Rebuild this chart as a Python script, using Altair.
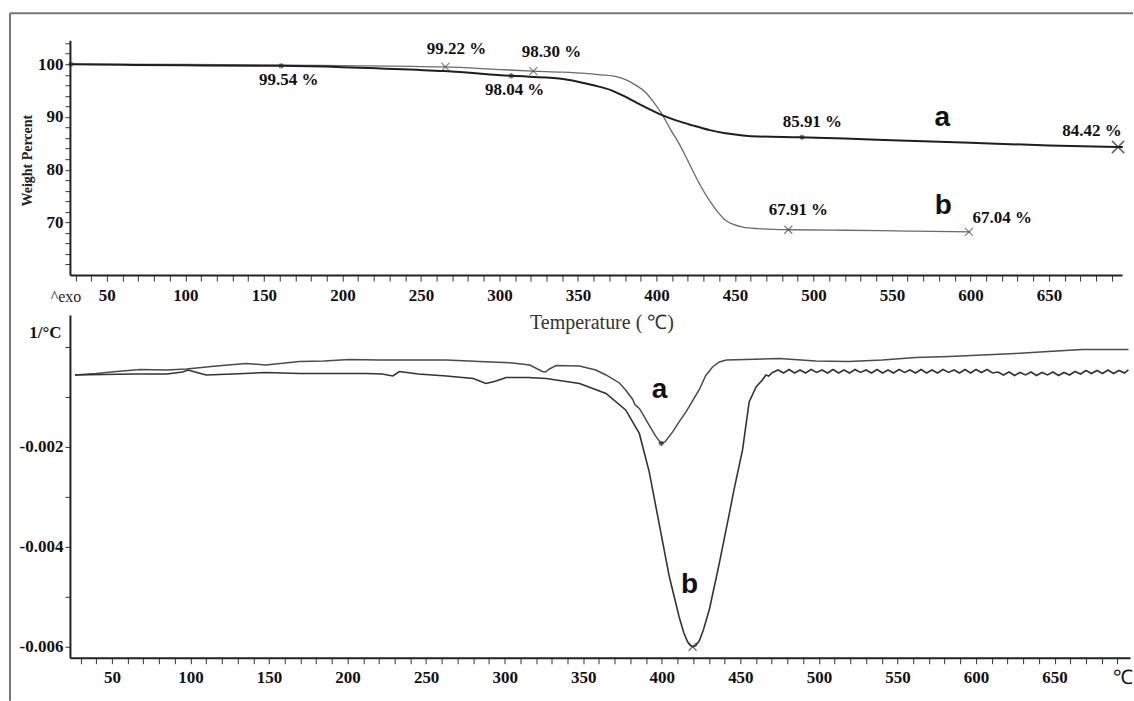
import altair as alt
import pandas as pd

# ---------------- TGA (top panel) ----------------
tga_a_temp = [27, 60, 100, 161, 200, 224, 265, 308, 338, 350, 360, 371, 381, 392, 404, 413, 423, 434, 444, 455, 465, 491, 520, 550, 600, 650, 694, 697]
tga_a_wt = [100.0, 99.9, 99.8, 99.7, 99.45, 99.2, 98.7, 97.8, 97.3, 96.7, 96.0, 95.1, 93.7, 92.0, 90.3, 89.3, 88.4, 87.5, 86.9, 86.5, 86.3, 86.15, 85.9, 85.6, 85.1, 84.6, 84.3, 84.28]

tga_b_temp = [27, 100, 160, 200, 265, 300, 321, 340, 355, 365, 375, 381, 387, 393, 398, 404, 409, 414.5, 419, 423, 428, 433.6, 439, 444, 449, 455, 465, 484, 520, 560, 600]
tga_b_wt = [100.0, 99.95, 99.85, 99.75, 99.5, 99.0, 98.7, 98.5, 98.25, 98.0, 97.6, 97.0, 96.0, 94.7, 92.9, 90.3, 87.6, 84.9, 82.3, 79.9, 77.0, 74.2, 72.0, 70.4, 69.6, 69.1, 68.8, 68.6, 68.5, 68.35, 68.2]

tga_cross_temp = [265.6, 321.6, 484, 599]
tga_cross_wt = [99.5, 98.7, 68.6, 68.2]
tga_big_cross_temp = [694]
tga_big_cross_wt = [84.3]
tga_star_temp = [27, 161, 307.6, 492.7]
tga_star_wt = [100.0, 99.7, 97.8, 86.15]

tga_labels = ["99.54 %", "99.22 %", "98.30 %", "98.04 %", "85.91 %", "84.42 %", "67.91 %", "67.04 %"]
tga_label_temp = [165.8, 272.7, 333.2, 309.7, 499.3, 677.4, 490.4, 620.2]
tga_label_wt = [96.96, 102.85, 102.28, 95.07, 89.0, 87.29, 72.3, 70.78]

tga_letters = ["a", "b"]
tga_letter_temp = [582.0, 582.7]
tga_letter_wt = [89.75, 73.05]

# ---------------- DTG (bottom panel) ----------------
dtg_a_temp = [26.5, 40, 53, 68, 85, 97.5, 116.5, 135.6, 148, 169.5, 185, 201, 220, 240, 263, 284, 305, 316, 324, 326, 328.5, 332.7, 347.6, 358, 364.5, 373, 377, 381.5, 383, 385.7, 388, 392, 396, 399.5, 402, 406.9, 411, 415.4, 419, 423.9, 428, 432.3, 436.6, 441, 453.5, 474.7, 498, 519, 540.4, 561.6, 583, 604, 625, 646, 667.6, 697]
dtg_a_val = [-0.00056, -0.00053, -0.00049, -0.00045, -0.00046, -0.00044, -0.00038, -0.00033, -0.00036, -0.00029, -0.00028, -0.00025, -0.00026, -0.00026, -0.00026, -0.00029, -0.00032, -0.00036, -0.00049, -0.00050, -0.00044, -0.00037, -0.00038, -0.00046, -0.00056, -0.00072, -0.00086, -0.00105, -0.00116, -0.00123, -0.00135, -0.00157, -0.00178, -0.00193, -0.00190, -0.00170, -0.00150, -0.00130, -0.00111, -0.00085, -0.00057, -0.00040, -0.00030, -0.00026, -0.00025, -0.00023, -0.00028, -0.00029, -0.00026, -0.00021, -0.00019, -0.00016, -0.00013, -0.00009, -0.00005, -0.00005]

dtg_b_temp = [26.5, 45, 63.5, 85, 95, 98.5, 103, 110, 127, 148, 169.5, 191, 212, 222, 228.8, 233, 245, 263, 280, 288, 293.5, 301, 315, 326.4, 347.6, 364.5, 377, 385.7, 392, 398.4, 404.8, 411, 414, 416.4, 418, 419.6, 421.5, 423.9, 426.5, 430.3, 436.6, 443, 446, 451.4, 455.6, 460, 464, 466.3, 468, 470.5,
              474, 477.5, 481, 484.5, 488, 491.5, 495, 498.5, 502, 505.5, 509, 512.5, 516, 519.5, 523, 526.5, 530, 533.5, 537, 540.5, 544, 547.5, 551, 554.5, 558, 561.5, 565, 568.5, 572, 575.5, 579, 582.5, 586, 589.5, 593, 596.5, 600, 603.5, 607, 610.5, 614, 617.5, 621, 624.5, 628, 631.5, 635, 638.5, 642, 645.5, 649, 652.5, 656, 659.5, 663, 666.5, 670, 673.5, 677, 680.5, 684, 687.5, 691, 694.5, 697]
dtg_b_val = [-0.00056, -0.00055, -0.00054, -0.00054, -0.00050, -0.00046, -0.00050, -0.00056, -0.00054, -0.00051, -0.00053, -0.00053, -0.00053, -0.00054, -0.00058, -0.00049, -0.00054, -0.00058, -0.00063, -0.00073, -0.00069, -0.00061, -0.00061, -0.00063, -0.00073, -0.00093, -0.00126, -0.00173, -0.00250, -0.00355, -0.00460, -0.00540, -0.00572, -0.00590, -0.00597, -0.00600, -0.00598, -0.00588, -0.00566, -0.00525, -0.00433, -0.00333, -0.00285, -0.00206, -0.00110, -0.00080, -0.00066, -0.00056, -0.00058, -0.00051,
             -0.00046, -0.00052, -0.00045, -0.00052, -0.00046, -0.00052, -0.00045, -0.00051, -0.00046, -0.00052, -0.00045, -0.00052, -0.00046, -0.00052, -0.00045, -0.00051, -0.00046, -0.00052, -0.00045, -0.00052, -0.00046, -0.00052, -0.00045, -0.00051, -0.00046, -0.00052, -0.00045, -0.00052, -0.00046, -0.00052, -0.00045, -0.00051, -0.00046, -0.00052, -0.00045, -0.00052, -0.00045, -0.00051, -0.00045, -0.00052, -0.00050, -0.00056, -0.00050, -0.00057, -0.00051, -0.00056, -0.00050, -0.00057, -0.00051, -0.00056, -0.00050, -0.00057, -0.00051, -0.00056, -0.00049, -0.00054, -0.00047, -0.00053, -0.00047, -0.00053, -0.00046, -0.00053, -0.00047, -0.00052, -0.00046]

dtg_cross_temp = [419.6]
dtg_cross_val = [-0.00600]
dtg_star_temp = [399.7]
dtg_star_val = [-0.00193]

dtg_letters = ["a", "b"]
dtg_letter_temp = [398.5, 417.6]
dtg_letter_val = [-0.00086, -0.00476]

# ---------------- helpers ----------------
SERIF = "Liberation Serif"
SANS = "Liberation Sans"
XPATH = "M-1,-1L1,1M-1,1L1,-1"
STAR = "M-1,0L1,0M0,-1L0,1M-0.7,-0.7L0.7,0.7M-0.7,0.7L0.7,-0.7"

X_top = alt.X("T:Q", scale=alt.Scale(domain=[26.5, 696.5], nice=False, zero=False),
              axis=alt.Axis(values=list(range(30, 700, 10)),
                            labelExpr="datum.value % 50 === 0 ? datum.label : ''",
                            title="Temperature ( \u2103)", titleX=532, titleY=47,
                            titleFont=SERIF, titleFontSize=20, titleFontWeight="normal",
                            titleColor="#333", titleBaseline="middle", titleAlign="center",
                            labelFont=SERIF, labelFontWeight="bold", labelFontSize=17,
                            labelColor="#111", labelPadding=6, tickSize=6, tickColor="#333",
                            tickWidth=1, domainColor="#222", domainWidth=2, grid=False,
                            labelFlush=False, labelOverlap=False))
Y_top = alt.Y("W:Q", scale=alt.Scale(domain=[60, 104.55], nice=False, zero=False),
              axis=alt.Axis(values=list(range(62, 105, 2)),
                            labelExpr="(datum.value % 10 === 0 && datum.value >= 70) ? datum.label : ''",
                            title="Weight Percent", titleX=-42, titleY=120, titleAngle=-90,
                            titleFont=SERIF, titleFontSize=14, titleFontWeight="bold",
                            titleColor="#222", titleBaseline="middle", titleAlign="center",
                            labelFont=SERIF, labelFontWeight="bold", labelFontSize=17,
                            labelColor="#111", labelPadding=2, tickSize=5, tickColor="#333",
                            tickWidth=1, domainColor="#222", domainWidth=2, grid=False,
                            labelOverlap=False))

X_bot = alt.X("T:Q", scale=alt.Scale(domain=[23.3, 698], nice=False, zero=False),
              axis=alt.Axis(values=list(range(30, 700, 10)),
                            labelExpr="datum.value % 50 === 0 ? datum.label : ''",
                            title="\u2103", titleX=1053, titleY=20,
                            titleFont=SERIF, titleFontSize=20, titleFontWeight="normal",
                            titleColor="#111", titleBaseline="middle", titleAlign="center",
                            labelFont=SERIF, labelFontWeight="bold", labelFontSize=17,
                            labelColor="#111", labelPadding=6, tickSize=6, tickColor="#333",
                            tickWidth=1, domainColor="#222", domainWidth=2, grid=False,
                            labelFlush=False, labelOverlap=False))
Y_bot = alt.Y("D:Q", scale=alt.Scale(domain=[-0.00622, 0.00064], nice=False, zero=False),
              axis=alt.Axis(values=[0, -0.001, -0.002, -0.003, -0.004, -0.005, -0.006],
                            labelExpr="(abs(datum.value) > 0.0015 && round(abs(datum.value) * 1000) % 2 === 0) ? '-' + format(abs(datum.value), '.3f') : ''",
                            title="1/\u00b0C", titleX=-25, titleY=17, titleAngle=0,
                            titleFont=SERIF, titleFontSize=17, titleFontWeight="bold",
                            titleColor="#111", titleBaseline="middle", titleAlign="center",
                            labelFont=SERIF, labelFontWeight="bold", labelFontSize=17,
                            labelColor="#111", labelPadding=2, tickSize=5, tickColor="#333",
                            tickWidth=1, domainColor="#222", domainWidth=2, grid=False,
                            labelOverlap=False))

# ---------------- top panel ----------------
t_line_a = alt.Chart(pd.DataFrame({"T": tga_a_temp, "W": tga_a_wt})).mark_line(
    color="#1e1e1e", strokeWidth=2.0, interpolate="monotone").encode(x=X_top, y=Y_top)
t_line_b = alt.Chart(pd.DataFrame({"T": tga_b_temp, "W": tga_b_wt})).mark_line(
    color="#6a6a6a", strokeWidth=1.3, interpolate="monotone").encode(x=X_top, y=Y_top)
t_cross = alt.Chart(pd.DataFrame({"T": tga_cross_temp, "W": tga_cross_wt})).mark_point(
    shape=XPATH, size=64, filled=False, color="#444", strokeWidth=1.1).encode(x=X_top, y=Y_top)
t_big = alt.Chart(pd.DataFrame({"T": tga_big_cross_temp, "W": tga_big_cross_wt})).mark_point(
    shape=XPATH, size=150, filled=False, color="#222", strokeWidth=1.5).encode(x=X_top, y=Y_top)
t_star = alt.Chart(pd.DataFrame({"T": tga_star_temp, "W": tga_star_wt})).mark_point(
    shape=STAR, size=30, filled=False, color="#222", strokeWidth=1.1).encode(x=X_top, y=Y_top)
t_text = alt.Chart(pd.DataFrame({"T": tga_label_temp, "W": tga_label_wt, "L": tga_labels})).mark_text(
    font=SERIF, fontSize=17, fontWeight="bold", color="#111", align="center", baseline="middle").encode(
    x=X_top, y=Y_top, text="L:N")
t_letters = alt.Chart(pd.DataFrame({"T": tga_letter_temp, "W": tga_letter_wt, "L": tga_letters})).mark_text(
    font=SANS, fontSize=28, fontWeight="bold", color="#111", align="center", baseline="middle").encode(
    x=X_top, y=Y_top, text="L:N")
t_exo = alt.Chart(pd.DataFrame({"T": [24.0], "W": [55.8], "L": ["^exo"]})).mark_text(
    font=SERIF, fontSize=16, color="#222", align="center", baseline="middle").encode(
    x=X_top, y=Y_top, text="L:N")

frame_df = pd.DataFrame({"d": [0]})
border_top = alt.Chart(frame_df).mark_rule(color="#777", strokeWidth=2).encode(
    x=alt.value(-60), x2=alt.value(1064), y=alt.value(-27))
border_left = alt.Chart(frame_df).mark_rule(color="#777", strokeWidth=2).encode(
    x=alt.value(-60), y=alt.value(-27), y2=alt.value(661))

top = alt.layer(t_line_b, t_line_a, t_cross, t_big, t_star, t_text, t_letters, t_exo,
                border_top, border_left).properties(width=1053, height=235)

# ---------------- bottom panel ----------------
b_line_a = alt.Chart(pd.DataFrame({"T": dtg_a_temp, "D": dtg_a_val})).mark_line(
    color="#4a4a4a", strokeWidth=1.5).encode(x=X_bot, y=Y_bot)
b_line_b = alt.Chart(pd.DataFrame({"T": dtg_b_temp, "D": dtg_b_val})).mark_line(
    color="#333", strokeWidth=1.6).encode(x=X_bot, y=Y_bot)
b_cross = alt.Chart(pd.DataFrame({"T": dtg_cross_temp, "D": dtg_cross_val})).mark_point(
    shape=XPATH, size=64, filled=False, color="#333", strokeWidth=1.2).encode(x=X_bot, y=Y_bot)
b_star = alt.Chart(pd.DataFrame({"T": dtg_star_temp, "D": dtg_star_val})).mark_point(
    shape=STAR, size=30, filled=False, color="#222", strokeWidth=1.1).encode(x=X_bot, y=Y_bot)
b_letters = alt.Chart(pd.DataFrame({"T": dtg_letter_temp, "D": dtg_letter_val, "L": dtg_letters})).mark_text(
    font=SANS, fontSize=28, fontWeight="bold", color="#111", align="center", baseline="middle").encode(
    x=X_bot, y=Y_bot, text="L:N")

bottom = alt.layer(b_line_a, b_line_b, b_cross, b_star, b_letters).properties(width=1061, height=343)

chart = alt.vconcat(top, bottom, spacing=40, bounds="flush").properties(
    padding={"left": 9, "top": 12, "right": 0, "bottom": 0},
    background="white",
).configure_view(stroke=None)

chart.save("out.html", embed_options={"renderer": "svg", "actions": False})
